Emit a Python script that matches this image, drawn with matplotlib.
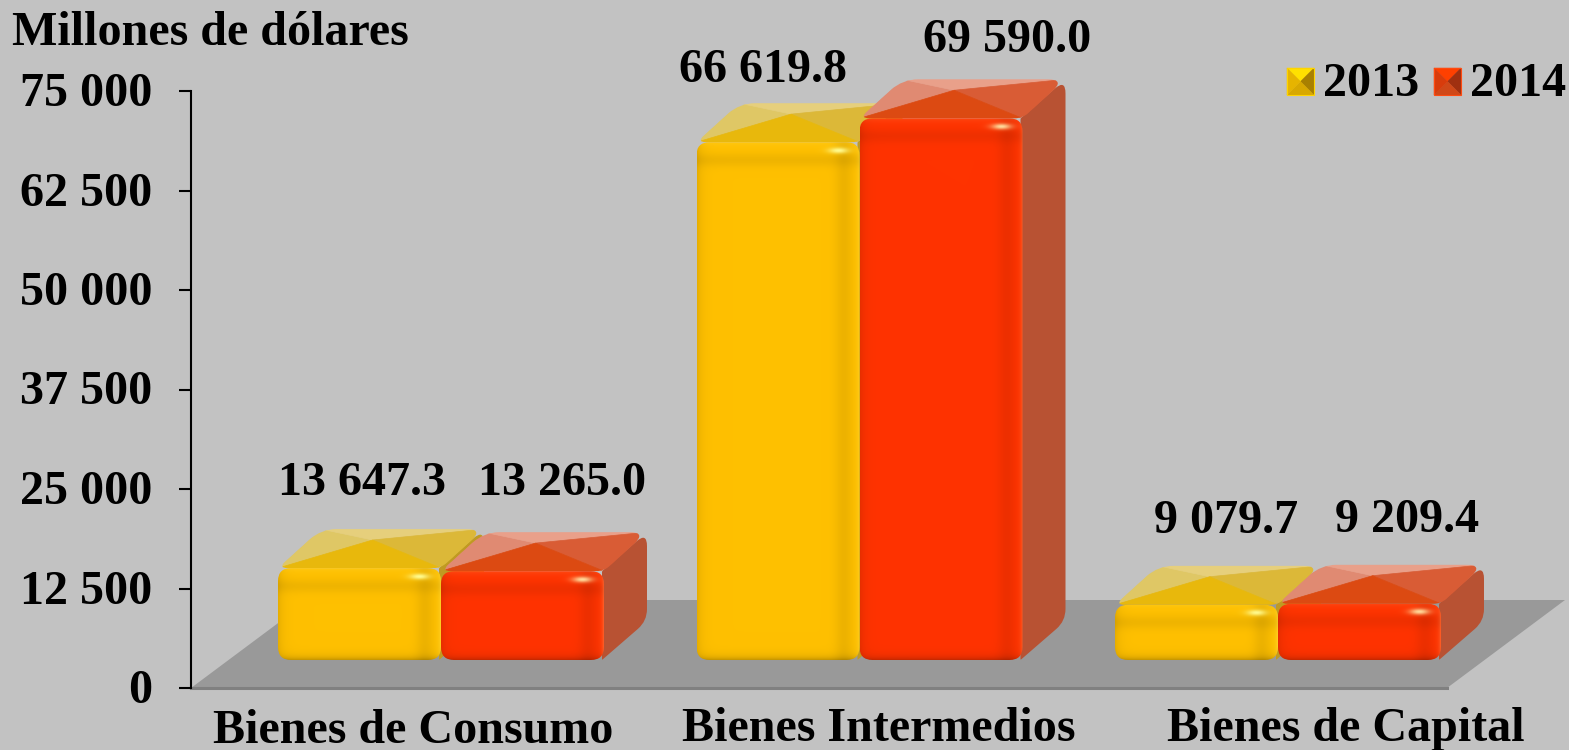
import numpy as np
import matplotlib
matplotlib.use('Agg')
import matplotlib.pyplot as plt
from matplotlib.patches import FancyBboxPatch, PathPatch, Polygon, Rectangle
from matplotlib.path import Path
from matplotlib.transforms import ScaledTranslation

categories = ['Bienes de Consumo', 'Bienes Intermedios', 'Bienes de Capital']
series_names = ['2013', '2014']
values_2013 = [13647.3, 66619.8, 9079.7]
values_2014 = [13265.0, 69590.0, 9209.4]
y_ticks = [0, 12500, 25000, 37500, 50000, 62500, 75000]
y_tick_labels = ['0', '12 500', '25 000', '37 500', '50 000', '62 500', '75 000']
value_labels_2013 = ['13 647.3', '66 619.8', '9 079.7']
value_labels_2014 = ['13 265.0', '69 590.0', '9 209.4']

# label nudges in pixels, the originals were placed by hand
label_dx_2013 = [2, -15, 30]
label_dy_2013 = [85, 72, 84]
label_dx_2014 = [40, 66, 48]
label_dy_2014 = [88, 78, 84]
cat_label_dx = [-28, 19, 68]
cat_label_y = [731, 729, 729]

W, H = 1569, 750
AX_LEFT, AX_TOP, AX_BOTTOM = 191, 91, 688
CAT_STEP = 418.5
FIRST_CAT = 441
FONT = 'Liberation Serif'
BIG = 34.6

PX_X = 1 / CAT_STEP
PX_Y = 75000 / (AX_BOTTOM - AX_TOP)

BAR_W = 163 * PX_X
DEPTH_X = 43 * PX_X
DEPTH_Y = 39 * PX_Y
BASE_Y = 28 * PX_Y
TOP_SCALE = 1.01
TOP_LIFT = 1280
FLOOR_DX = 118 * PX_X
FLOOR_DY = 88 * PX_Y

YELLOW = dict(face=(1.0, 0.753, 0.0), side='#c09a22', left='#dfc765', right='#dcb838',
              front='#e8b80c', back='#e6cf7c', spec=(1.0, 0.98, 0.55), frame='#ffd400',
              leg=['#ffe000', '#a88000', '#d8a800', '#e6b400'])
RED = dict(face=(1.0, 0.2, 0.0), side='#b85233', left='#e08a72', right='#d95c35',
           front='#dc4a12', back='#e9a08a', spec=(1.0, 0.85, 0.6), frame='#ff4a10',
           leg=['#ff4000', '#a03010', '#d04818', '#d83c0c'])

plt.rcParams['font.family'] = [FONT, 'DejaVu Serif']
plt.rcParams['font.weight'] = 'bold'

fig = plt.figure(figsize=(W / 100, H / 100), dpi=100, facecolor='#c2c2c2')
ax = fig.add_axes([AX_LEFT / W, 1 - AX_BOTTOM / H, (W - AX_LEFT) / W, (AX_BOTTOM - AX_TOP) / H])
ax.set_facecolor('none')
ax.set_xlim((AX_LEFT - FIRST_CAT) * PX_X, (W - FIRST_CAT) * PX_X)
ax.set_ylim(0, 75000)


def rounded_path(points, radius):
    # round the corners of a polygon, radius in pixels
    pts = np.array(points) / [PX_X, PX_Y]
    verts, codes = [], []
    n = len(pts)
    for i in range(n):
        p, prev, nxt = pts[i], pts[i - 1], pts[(i + 1) % n]
        r = radius[i] if np.ndim(radius) else radius
        a = p + (prev - p) / np.linalg.norm(prev - p) * r
        b = p + (nxt - p) / np.linalg.norm(nxt - p) * r
        verts += [a, p, b]
        codes += [Path.MOVETO if i == 0 else Path.LINETO, Path.CURVE3, Path.CURVE3]
    verts.append(verts[0])
    codes.append(Path.CLOSEPOLY)
    return Path(np.array(verts) * [PX_X, PX_Y], codes)


def bevel_image(w, h, colors):
    # shading of the front face: dark rim, soft band at the top, small specular spot
    yy, xx = np.mgrid[0:h, 0:w]
    dl, dr, dt, db = xx + 0.5, w - xx - 0.5, yy + 0.5, h - yy - 0.5
    shade = np.ones((h, w))
    shade -= 0.10 * np.exp(-dl / 5)
    shade -= 0.07 * np.exp(-((dr - 16) / 9) ** 2)
    shade -= 0.24 * np.exp(-db / 3.5)
    shade -= 0.06 * np.exp(-((dt - 18) / 7) ** 2)
    img = np.clip(shade[..., None] * np.array(colors['face']), 0, 1)
    rim = np.exp(-dt / 3)[..., None] * 0.15
    img = img * (1 - rim) + rim * np.array(colors['spec'])
    edge = np.exp(-dr / 2)[..., None] * 0.30
    img = img * (1 - edge) + edge * np.array(colors['spec'])
    spot = np.exp(-(((xx - (w - 22)) / 10) ** 2 + ((yy - 8) / 3) ** 2))[..., None]
    return np.clip(img * (1 - spot) + spot * np.array(colors['spec']), 0, 1)


def draw_bar(x0, value, colors, z):
    x1 = x0 + BAR_W
    y0 = BASE_Y
    yt = TOP_LIFT + TOP_SCALE * value
    dx, dy = DEPTH_X, DEPTH_Y

    side = [(x1 - 2 * PX_X, y0), (x1 + dx, y0 + dy), (x1 + dx, yt + dy), (x1 - 2 * PX_X, yt)]
    ax.add_patch(PathPatch(rounded_path(side, [1, 12, 14, 1]), fc=colors['side'], ec='none',
                           zorder=z, clip_on=False))

    top = [(x0, yt), (x0 + dx, yt + dy), (x1 + dx, yt + dy), (x1, yt)]
    outline = PathPatch(rounded_path(top, [10, 16, 18, 8]), fc='none', ec='none', zorder=z + 1,
                        clip_on=False)
    ax.add_patch(outline)
    apex = (x0 + 0.58 * BAR_W, yt + 0.72 * dy)
    facets = [([top[0], top[1], apex], colors['left']),
              ([top[1], top[2], apex], colors['back']),
              ([top[2], top[3], apex], colors['right']),
              ([top[3], top[0], apex], colors['front'])]
    for pts, col in facets:
        poly = Polygon(pts, closed=True, fc=col, ec=col, lw=0.5, zorder=z + 1)
        ax.add_patch(poly)
        poly.set_clip_path(outline)
        poly.set_clip_box(None)

    # front face, shaded image clipped to a rounded box
    w_px = int(round(BAR_W / PX_X))
    h_px = int(round((yt - y0) / PX_Y))
    box = FancyBboxPatch((x0, y0), BAR_W, yt - y0, boxstyle=f'round,pad=0,rounding_size={13 * PX_X}',
                         mutation_aspect=PX_Y / PX_X, fc='none', ec='none', zorder=z + 2, clip_on=False)
    ax.add_patch(box)
    im = ax.imshow(bevel_image(w_px, h_px, colors), extent=(x0, x1, y0, yt), origin='upper',
                   aspect='auto', zorder=z + 2, interpolation='bilinear')
    im.set_clip_path(box)


# floor
floor_x0 = ax.get_xlim()[0]
floor_x1 = floor_x0 + (1447 - AX_LEFT) * PX_X
ax.add_patch(Polygon([(floor_x0, 0), (floor_x1, 0), (floor_x1 + FLOOR_DX, FLOOR_DY), (floor_x0 + FLOOR_DX, FLOOR_DY)],
                     closed=True, fc='#999999', ec='none', zorder=1, clip_on=False))
ax.plot([floor_x0, floor_x1], [0, 0], color='#808080', lw=2.2, zorder=1.5, clip_on=False)

for i in range(len(categories)):
    draw_bar(i - BAR_W, values_2013[i], YELLOW, 3)
    draw_bar(i, values_2014[i], RED, 6)
    ax.annotate(value_labels_2013[i], (i - BAR_W / 2, TOP_LIFT + TOP_SCALE * values_2013[i]),
                xytext=(label_dx_2013[i], label_dy_2013[i]), textcoords='offset pixels',
                ha='center', va='center', fontsize=BIG, fontweight='bold', annotation_clip=False)
    ax.annotate(value_labels_2014[i], (i + BAR_W / 2, TOP_LIFT + TOP_SCALE * values_2014[i]),
                xytext=(label_dx_2014[i], label_dy_2014[i]), textcoords='offset pixels',
                ha='center', va='center', fontsize=BIG, fontweight='bold', annotation_clip=False)
    fig.text((FIRST_CAT + i * CAT_STEP + cat_label_dx[i]) / W, 1 - cat_label_y[i] / H, categories[i],
             ha='center', va='center', fontsize=BIG, fontweight='bold')

ax.set_xlim((AX_LEFT - FIRST_CAT) * PX_X, (W - FIRST_CAT) * PX_X)
ax.set_ylim(0, 75000)
ax.set_xticks([])
ax.set_yticks(y_ticks)
ax.set_yticklabels(y_tick_labels, fontsize=BIG, fontweight='bold')
ax.tick_params(axis='y', length=8.6, width=1.5, pad=19, color='black')
for lab in ax.get_yticklabels():
    lab.set_transform(lab.get_transform() + ScaledTranslation(0, 2 / 100, fig.dpi_scale_trans))
for s in ['top', 'right', 'bottom']:
    ax.spines[s].set_visible(False)
ax.spines['left'].set_linewidth(1.5)

fig.text(12 / W, 1 - 33 / H, 'Millones de dólares', ha='left', va='center', fontsize=BIG, fontweight='bold')

# legend with the little pyramid keys
for name, colors, kx, tx in zip(series_names, [YELLOW, RED], [1287, 1434], [1323, 1470]):
    l, r, t, b = kx / W, (kx + 27) / W, 1 - 68 / H, 1 - 95 / H
    c = ((l + r) / 2, (t + b) / 2)
    tris = [[(l, t), (r, t), c], [(r, t), (r, b), c], [(r, b), (l, b), c], [(l, b), (l, t), c]]
    for pts, col in zip(tris, colors['leg']):
        fig.add_artist(Polygon(pts, closed=True, fc=col, ec=col, lw=0.3, transform=fig.transFigure))
    fig.add_artist(Rectangle((l, b), r - l, t - b, fc='none', ec=colors['frame'], lw=0.8,
                             transform=fig.transFigure))
    fig.text(tx / W, 1 - 84 / H, name, ha='left', va='center', fontsize=BIG, fontweight='bold')

fig.savefig('out.png', dpi=100, facecolor=fig.get_facecolor())
